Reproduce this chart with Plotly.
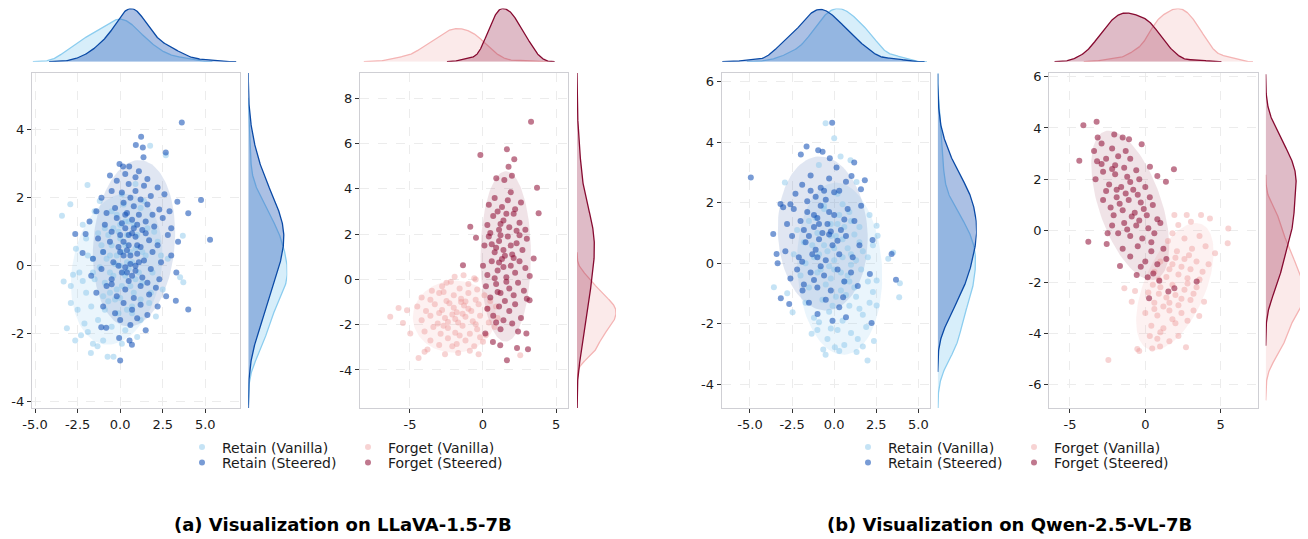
import numpy as np
import plotly.graph_objects as go

# ---------------- data ----------------
SERIES_NAMES = ["Retain (Vanilla)", "Retain (Steered)", "Forget (Vanilla)", "Forget (Steered)"]
TITLES = ["(a) Visualization on LLaVA-1.5-7B", "(b) Visualization on Qwen-2.5-VL-7B"]

RETAIN_VANILLA_A = [
    (-3.32, -0.47), (-3.42, 1.47), (-2.93, 1.81), (-1.92, 2.37), (1.76, 3.53), (3.68, 0.88), (-3.13, -1.84),
    (-2.64, -2.2), (-1.72, -2.57), (-0.74, -2.68), (-0.39, -2.68), (-1.33, -2.37), (-2.77, -0.27), (3.52, -0.34),
    (3.71, -0.49), (2.68, 3.25),
    (-2.2, 1.2), (-1.5, 1.6), (-0.9, 1.1), (-0.2, 1.5), (0.5, 1.3), (1.2, 1.7), (-1.2, 1.9), (2.0, 1.0), (0.1, 2.1),
    (-2.6, 0.5), (-2.0, 0.8), (-1.6, 0.2), (-1.1, 0.6), (-0.6, 0.3), (0.0, 0.8), (0.4, 0.1), (0.9, 0.5), (1.5, 0.3),
    (2.2, 0.7), (-1.3, 0.95), (-0.3, 0.05), (2.8, 0.2),
    (-2.9, -0.6), (-2.4, -0.2), (-2.0, -0.8), (-1.5, -0.4), (-1.0, -0.9), (-0.6, -0.2), (-0.2, -0.7), (0.3, -0.3),
    (0.8, -0.8), (1.3, -0.5), (1.9, -0.2), (2.5, -0.7), (-2.2, -0.45), (-1.2, -0.05), (0.0, -0.95),
    (-2.5, -1.3), (-2.1, -1.7), (-1.7, -1.2), (-1.3, -1.6), (-0.9, -1.3), (-0.5, -1.8), (-0.1, -1.4), (0.3, -1.9),
    (0.7, -1.2), (1.2, -1.6), (1.7, -1.1), (2.1, -1.5), (-1.9, -1.95), (-0.7, -1.05), (-2.9, -1.1),
    (-2.3, -2.05), (-1.0, -2.2), (0.1, -2.3), (1.0, -2.1), (-1.6, -2.3),
    (0.3, 0.6), (0.8, 1.2), (1.3, 0.4), (-0.4, -0.3), (0.6, -0.6), (1.1, -0.2), (0.2, 1.8), (0.9, 2.4), (-0.7, 0.9),
    (1.6, 1.1), (0.4, -1.3), (-0.2, 0.3), (1.8, -0.8), (0.7, 0.1), (-0.9, -0.5), (1.4, 1.9), (0.0, 1.2), (0.5, -0.1),
    (-0.5, 1.6), (1.0, 0.9), (2.4, 0.3), (-1.6, -0.2), (-1.9, 0.3), (0.1, -0.6), (1.2, -1.0),
    (-0.5, 0.6), (0.2, -0.2), (-0.1, 1.0), (0.6, 0.4), (-0.8, 0.2), (0.4, 0.9), (-0.3, -1.0), (0.0, 0.0),
    (0.9, -0.4), (-0.6, -0.8), (0.3, 1.3), (-1.0, 0.4), (0.7, -1.4), (0.1, 0.4), (-0.4, 1.1),
]
RETAIN_STEERED_A = [
    (3.62, 4.21), (1.23, 3.79), (0.92, 3.55), (1.33, 3.48), (1.37, 3.19), (2.68, 3.33),
    (-0.04, 2.99), (0.17, 2.92), (0.53, 2.92), (1.1, 2.78), (0.3, 2.7), (0.9, 2.6), (-0.6, 2.65), (1.6, 2.55), (-0.2, 2.5),
    (0.5, 2.4), (1.4, 2.35), (2.2, 2.3), (-0.5, 2.2), (0.1, 2.15), (0.9, 2.2), (1.8, 2.05), (2.6, 2.1), (-1.1, 2.0), (0.6, 2.0),
    (4.75, 1.93), (3.36, 1.88), (1.2, 1.95), (0.2, 1.85), (-0.3, 1.7), (0.8, 1.75), (1.6, 1.8), (2.3, 1.65), (-1.4, 1.6),
    (-0.8, 1.55), (0.4, 1.55), (1.1, 1.5), (1.9, 1.5), (2.9, 1.6), (4.0, 1.54),
    (-1.8, 1.3), (-0.9, 1.2), (-0.2, 1.4), (0.3, 1.1), (0.7, 1.35), (1.0, 1.2), (1.5, 1.3), (2.0, 1.15), (2.5, 1.4),
    (3.0, 1.1), (-0.5, 1.0), (1.3, 1.05), (0.1, 1.25),
    (5.28, 0.76), (-2.64, 0.93), (-2.03, 0.93), (-1.3, 0.8), (-0.6, 0.7), (0.0, 0.9), (0.5, 0.6), (0.9, 0.85), (1.2, 0.55),
    (1.7, 0.75), (2.2, 0.6), (2.8, 0.9), (3.4, 0.7), (-0.1, 0.55), (0.7, 0.95), (1.5, 0.95),
    (-2.21, 0.37), (-1.6, 0.2), (-1.0, 0.4), (-0.4, 0.1), (0.2, 0.3), (0.6, 0.05), (1.0, 0.35), (1.4, 0.15), (1.9, 0.4),
    (2.4, 0.1), (3.0, 0.3), (0.4, 0.45), (-0.1, 0.0), (0.9, 0.0),
    (-1.7, -0.3), (-1.1, -0.1), (-0.5, -0.4), (0.1, -0.2), (0.5, -0.45), (0.9, -0.15), (1.3, -0.35), (1.8, -0.1),
    (2.3, -0.4), (3.3, -0.2), (0.3, -0.05), (1.6, -0.5),
    (-1.4, -0.8), (-0.8, -0.6), (-0.2, -0.9), (0.3, -0.7), (0.8, -0.95), (1.2, -0.6), (1.7, -0.85), (2.1, -0.65),
    (2.7, -0.9), (-0.5, -0.55),
    (3.27, -1.03), (4.0, -1.29), (-1.0, -1.2), (-0.3, -1.4), (0.2, -1.1), (0.7, -1.3), (1.2, -1.15), (1.6, -1.45), (2.2, -1.2),
    (-1.11, -1.81), (-0.82, -1.83), (0.0, -1.6), (0.6, -1.75), (1.0, -1.55), (1.5, -1.9),
    (0.0, -2.79), (0.69, -2.33), (-0.06, -2.13), (0.55, -2.2),
    (0.2, 0.7), (0.6, 0.3), (1.0, 0.6), (0.4, -0.2), (0.8, 1.1), (0.0, 0.4), (1.1, 0.1), (0.5, 0.9), (0.3, 1.5), (0.7, -0.3),
]
FORGET_VANILLA_A = [
    (-6.35, -1.65), (-5.78, -1.26), (-5.2, -1.36), (-5.48, -1.92), (-4.41, -3.47), (-4.98, -2.39), (-4.0, -3.2),
    (2.55, -3.35), (-1.94, 0.12), (-1.33, 0.19), (-0.5, 0.0),
    (-3.5, -0.5), (-2.8, -0.3), (-2.2, -0.1), (-1.6, -0.4), (-1.0, -0.2), (-0.4, -0.45), (-0.6, 0.05), (-2.5, -0.15),
    (-4.2, -0.8), (-3.6, -0.9), (-3.0, -0.6), (-2.5, -0.95), (-2.0, -0.7), (-1.5, -0.85), (-1.0, -0.6), (-0.5, -0.9),
    (0.1, -0.7), (-2.7, -0.55), (-1.2, -0.98), (0.5, -0.95),
    (-4.5, -1.2), (-3.9, -1.4), (-3.3, -1.1), (-2.8, -1.35), (-2.3, -1.05), (-1.8, -1.45), (-1.3, -1.15), (-0.8, -1.4),
    (-0.3, -1.1), (0.3, -1.3), (0.9, -1.2), (-2.0, -1.25), (-1.0, -1.3), (-3.0, -1.48), (-1.5, -1.0),
    (-4.2, -1.8), (-3.6, -1.6), (-3.1, -1.95), (-2.6, -1.7), (-2.1, -1.55), (-1.7, -1.9), (-1.2, -1.65), (-0.7, -1.85),
    (-0.2, -1.6), (0.4, -1.9), (1.0, -1.7), (-2.4, -1.88), (-1.4, -1.52), (-0.5, -1.98), (-1.9, -1.75),
    (-4.0, -2.3), (-3.4, -2.1), (-2.9, -2.4), (-2.4, -2.15), (-1.9, -2.35), (-1.4, -2.05), (-0.9, -2.4), (-0.4, -2.2),
    (0.2, -2.45), (0.8, -2.1), (-1.6, -2.48), (-2.7, -2.05),
    (-3.6, -2.7), (-3.0, -2.9), (-2.4, -2.6), (-1.8, -2.85), (-1.2, -2.7), (-0.6, -2.95), (0.0, -2.75), (-2.1, -2.95),
    (-0.2, -2.55),
    (-3.8, -3.1), (-2.6, -3.3), (-1.7, -3.25), (-0.9, -3.15), (-0.3, -3.3),
]
FORGET_STEERED_A = [
    (3.29, 6.97), (-0.18, 5.5), (1.64, 5.75), (2.14, 5.31), (1.75, 4.98), (1.98, 4.58), (3.7, 4.05), (0.91, 4.47),
    (1.46, 4.39), (3.81, 2.92),
    (-0.87, 2.33), (-0.48, 1.84), (-1.37, 0.63), (0.16, -2.39), (0.68, -2.76), (1.18, -2.91), (1.64, -3.57),
    (2.33, -3.03), (3.08, -3.08), (2.97, -2.39), (3.47, 0.93), (3.19, -0.92),
    (0.8, 3.6), (1.3, 3.2), (1.7, 3.5), (2.2, 3.1), (1.0, 3.0), (2.6, 3.4), (0.4, 3.3), (1.9, 3.85),
    (0.3, 2.4), (0.7, 2.8), (1.1, 2.2), (1.4, 2.6), (1.8, 2.3), (2.1, 2.9), (2.5, 2.5), (2.9, 2.2), (0.5, 2.05),
    (1.6, 2.9), (1.2, 2.45), (2.3, 2.15),
    (0.1, 1.5), (0.4, 1.9), (0.8, 1.2), (1.1, 1.7), (1.4, 1.3), (1.7, 1.9), (2.0, 1.1), (2.3, 1.6), (2.7, 1.3),
    (3.0, 1.8), (0.6, 1.55), (1.5, 1.05), (1.9, 1.5), (2.5, 1.95), (1.2, 1.95), (0.9, 1.4),
    (0.0, 0.6), (0.3, 0.2), (0.6, 0.8), (1.0, 0.4), (1.3, 0.9), (1.6, 0.1), (1.9, 0.6), (2.2, 0.3), (2.5, 0.8),
    (2.9, 0.5), (0.8, 0.05), (1.4, 0.55), (2.1, 0.95), (3.2, 0.15), (1.1, 0.75),
    (0.2, -0.3), (0.5, -0.8), (0.9, -0.2), (1.2, -0.6), (1.5, -0.95), (1.8, -0.4), (2.1, -0.7), (2.4, -0.15),
    (2.8, -0.5), (3.0, -0.85), (1.0, -0.55), (1.6, -0.1),
    (0.3, -1.3), (0.7, -1.6), (1.1, -1.2), (1.4, -1.8), (1.8, -1.4), (2.2, -1.1), (2.6, -1.7), (2.0, -1.95), (0.9, -1.9),
    (1.2, -2.2), (2.4, -2.3),
]
RETAIN_VANILLA_B = [
    (-0.51, 4.63), (0.0, 4.13), (0.38, 3.53), (0.97, 3.41), (1.33, 2.69), (-2.93, 2.67), (-0.91, 3.25),
    (-3.58, -0.79), (-2.79, -0.99), (-2.47, -1.62), (-1.34, -2.33), (-0.65, -2.85), (-0.51, -3.02), (0.04, -2.77),
    (1.33, -2.93), (1.98, -3.21), (2.36, -2.57), (2.52, -1.39), (2.52, -0.57), (3.9, -0.66), (3.86, -1.12),
    (3.21, 0.15), (3.5, 0.36), (2.52, 1.24), (2.58, 0.91),
    (-1.5, 1.4), (-0.6, 1.8), (0.2, 1.3), (0.9, 1.7), (1.5, 1.2), (2.1, 1.6), (-2.2, 1.1), (0.5, 1.95),
    (-2.4, 0.3), (-1.8, 0.7), (-1.2, 0.2), (-0.6, 0.6), (0.0, 0.1), (0.5, 0.8), (1.0, 0.3), (1.5, 0.7), (2.0, 0.2),
    (-0.2, 0.9), (1.2, 0.95), (2.3, 0.6),
    (-2.0, -0.4), (-1.5, -0.8), (-1.0, -0.3), (-0.5, -0.7), (0.0, -0.2), (0.4, -0.9), (0.8, -0.4), (1.2, -0.8),
    (1.6, -0.2), (2.0, -0.6), (2.3, -0.95), (-0.2, -0.5), (1.0, -0.05), (0.6, -0.6),
    (-1.7, -1.3), (-1.2, -1.8), (-0.7, -1.2), (-0.3, -1.6), (0.1, -1.1), (0.5, -1.9), (0.9, -1.4), (1.3, -1.1),
    (1.7, -1.7), (2.1, -1.3), (-0.9, -1.95), (0.7, -1.05), (1.5, -1.5), (-0.1, -1.4),
    (-1.0, -2.2), (-0.4, -2.5), (0.2, -2.2), (0.6, -2.7), (1.0, -2.3), (1.4, -2.5), (1.9, -2.1), (0.3, -2.9),
    (-0.2, -2.15), (1.7, -2.75),
    (-1.0, 1.0), (-0.4, 0.4), (0.3, 1.6), (0.8, 0.5), (-0.8, -0.2), (0.1, 0.9), (-1.3, 0.6), (0.6, 1.2), (-0.2, 1.3),
    (1.3, 0.1), (0.4, -0.3), (-0.6, 1.9), (1.0, 1.4), (-1.7, 0.0), (0.0, 0.5), (0.9, -0.6), (-0.9, 0.3), (0.5, 0.2),
    (1.7, 0.4), (-0.3, -0.1), (0.2, 2.3), (-1.1, 1.5),
]
RETAIN_STEERED_B = [
    (-4.95, 2.84), (-0.12, 4.65), (-1.64, 3.86), (-1.98, 3.6), (-0.95, 3.74), (-0.69, 3.69), (-0.26, 3.47),
    (0.14, 3.17), (1.19, 3.33), (1.03, 2.89), (1.82, 2.75), (1.59, 2.45), (-3.19, 1.96), (-3.03, 1.85),
    (-3.62, 0.97), (-3.42, 0.31), (-3.36, 0.0), (-3.17, -1.15), (-2.67, -1.34), (-1.88, -0.9), (3.67, -0.54),
    (3.41, 0.31), (2.28, 0.77), (2.12, -0.35), (-0.99, -1.67), (0.7, -1.78), (0.53, -1.12), (2.22, -1.97),
    (-1.9, 2.6), (-1.4, 2.9), (-0.8, 2.5), (-0.3, 2.8), (0.3, 2.4), (0.7, 2.7), (-1.1, 2.2), (-0.5, 2.1), (0.0, 2.35),
    (-2.3, 2.3), (-1.6, 2.05),
    (-2.8, 1.3), (-2.4, 1.8), (-2.0, 1.4), (-1.6, 1.7), (-1.2, 1.2), (-0.8, 1.9), (-0.4, 1.3), (0.0, 1.6), (0.4, 1.1),
    (0.8, 1.8), (1.2, 1.4), (1.6, 1.9), (-1.0, 1.5), (-0.2, 1.05), (-1.8, 1.1), (0.6, 1.45), (-2.6, 1.95),
    (-2.9, 0.4), (-2.5, 0.9), (-2.1, 0.2), (-1.7, 0.7), (-1.3, 0.3), (-0.9, 0.8), (-0.5, 0.1), (-0.1, 0.6), (0.3, 0.3),
    (0.7, 0.9), (1.1, 0.2), (1.5, 0.6), (-1.1, 0.45), (-0.3, 0.95), (-1.9, 0.05), (0.2, 0.75),
    (-2.6, -0.5), (-2.2, -0.2), (-1.8, -0.7), (-1.4, -0.3), (-1.0, -0.8), (-0.6, -0.4), (-0.2, -0.9), (0.2, -0.2),
    (0.6, -0.6), (1.0, -0.3), (1.4, -0.75), (-0.8, -0.1), (-1.2, -0.55),
    (-1.5, -1.3), (-0.5, -1.2), (0.3, -1.45), (-0.1, -1.9),
    (-1.2, 1.6), (-0.7, 1.0), (-1.5, 0.9), (-0.6, 2.4), (-1.0, 0.2), (-0.3, 1.7), (-1.4, 2.4), (-0.9, 1.3),
]
FORGET_VANILLA_B = [
    (1.93, 0.61), (2.75, 0.61), (3.7, 0.61), (4.29, 0.48), (5.51, 0.09), (5.47, -0.49), (4.63, -0.88),
    (-2.45, -5.03), (-1.39, -2.24), (-0.68, -2.35), (-0.53, -4.6), (-0.4, -4.68), (0.46, -4.58), (0.98, -4.51),
    (2.7, -4.54), (-0.9, -2.76), (3.9, -2.76), (3.58, -3.32), (2.19, 0.22), (3.03, 0.35),
    (1.5, -0.4), (2.1, -0.8), (2.6, -0.3), (3.1, -0.7), (3.6, -0.2), (4.0, -0.6), (2.9, -0.95), (1.8, -0.1),
    (0.6, -1.6), (1.0, -1.2), (1.4, -1.8), (1.8, -1.3), (2.2, -1.7), (2.6, -1.1), (3.0, -1.5), (3.4, -1.2),
    (3.8, -1.6), (4.2, -1.3), (0.9, -1.9), (2.0, -1.05), (2.8, -1.85), (3.6, -1.9), (1.6, -1.5), (2.4, -1.4),
    (0.2, -2.4), (0.6, -2.8), (1.0, -2.2), (1.4, -2.6), (1.8, -2.1), (2.2, -2.9), (2.6, -2.3), (3.0, -2.7),
    (3.4, -2.2), (0.5, -2.1), (1.2, -2.95), (2.0, -2.5), (2.8, -2.05), (3.2, -2.45), (1.6, -2.8), (2.4, -2.65),
    (0.9, -2.45),
    (0.0, -3.2), (0.4, -3.7), (0.8, -3.3), (1.2, -3.8), (1.6, -3.1), (2.0, -3.6), (2.4, -3.2), (2.8, -3.5),
    (1.0, -3.95), (1.8, -3.45), (3.2, -3.1), (0.6, -3.05),
    (0.8, -4.2), (1.6, -4.3), (2.2, -4.1), (0.3, -4.1),
]
FORGET_STEERED_B = [
    (-4.11, 4.11), (-3.23, 4.24), (-4.38, 2.72), (-2.06, 3.75), (-1.5, 3.63), (-1.08, 3.56), (-0.24, 3.37),
    (-3.16, 3.63), (1.9, 2.39), (1.37, 1.91), (0.8, 2.13), (0.31, 2.49),
    (-3.78, -0.43), (-2.56, -0.52), (-1.68, -1.37), (-0.57, -1.72), (0.16, -1.81), (0.53, -1.66), (0.93, -1.95),
    (0.25, -2.63), (1.53, -2.37), (1.93, -2.24), (3.41, -1.98),
    (-3.4, 3.1), (-2.9, 3.4), (-2.6, 2.8), (-2.2, 3.2), (-1.8, 2.9), (-1.3, 3.1), (-2.9, 2.6), (-2.0, 2.55),
    (-1.0, 2.8), (-3.2, 2.7),
    (-3.3, 2.0), (-2.8, 2.3), (-2.4, 1.8), (-2.0, 2.2), (-1.6, 1.7), (-1.2, 2.1), (-0.8, 1.6), (-0.4, 2.0),
    (0.0, 1.7), (-1.4, 2.45), (-2.6, 1.55), (-1.0, 1.9), (-0.6, 2.35), (-1.9, 1.6), (-2.2, 2.4),
    (-2.8, 1.2), (-2.3, 0.9), (-1.9, 1.3), (-1.5, 0.8), (-1.1, 1.2), (-0.7, 0.7), (-0.3, 1.1), (0.1, 0.6),
    (0.5, 1.0), (-1.3, 1.45), (-0.9, 0.55), (-1.7, 1.05), (-0.5, 1.4), (0.3, 1.3), (-2.1, 0.6), (-0.1, 0.85),
    (-2.2, 0.2), (-1.8, -0.1), (-1.4, 0.3), (-1.0, -0.2), (-0.6, 0.2), (-0.2, -0.3), (0.2, 0.1), (0.6, -0.1),
    (1.0, 0.3), (-1.2, 0.05), (-0.4, 0.4), (0.4, -0.45), (-2.5, -0.1), (0.8, 0.45),
    (-1.5, -0.7), (-1.0, -1.0), (-0.5, -0.6), (0.0, -1.2), (0.4, -0.8), (0.8, -1.3), (1.2, -0.7), (-0.3, -1.4),
    (1.4, -1.1),
]

X_TICKS_RETAIN = [-5.0, -2.5, 0.0, 2.5, 5.0]
X_LABELS_RETAIN = ["-5.0", "-2.5", "0.0", "2.5", "5.0"]
X_TICKS_FORGET = [-5, 0, 5]
X_LABELS_FORGET = ["-5", "0", "5"]
Y_TICKS_A_RETAIN = [-4, -2, 0, 2, 4]
Y_TICKS_A_FORGET = [-4, -2, 0, 2, 4, 6, 8]
Y_TICKS_B_RETAIN = [-4, -2, 0, 2, 4, 6]
Y_TICKS_B_FORGET = [-6, -4, -2, 0, 2, 4, 6]

# ---------------- styling ----------------
# The page body has an 8px margin, so the figure is 8px smaller and page
# coordinates (measured on the reference) are shifted by 8px.
OFF = 8
FW, FH = 1308 - OFF, 539 - OFF
FONT = "DejaVu Sans"
TXT = "#1a1a1a"

STYLE = {
    "Retain (Vanilla)": dict(marker="rgba(140,200,236,0.5)", line="#8ccdef", fill="rgba(150,210,242,0.38)",
                             ell="rgba(150,205,240,0.2)"),
    "Retain (Steered)": dict(marker="rgba(22,82,182,0.58)", line="#0a4aa6", fill="rgba(55,105,190,0.42)",
                             ell="rgba(60,100,175,0.16)"),
    "Forget (Vanilla)": dict(marker="rgba(236,150,150,0.42)", line="#f4b4b4", fill="rgba(240,170,170,0.25)",
                             ell="rgba(240,170,170,0.16)"),
    "Forget (Steered)": dict(marker="rgba(140,10,50,0.55)", line="#860a30", fill="rgba(150,30,70,0.3)",
                             ell="rgba(140,40,70,0.13)"),
}
NSTD = 1.7
MARKER_SIZE = 6


def kde(vals, grid, factor=0.36):
    v = np.asarray(vals, float)
    bw = factor * v.std(ddof=1)
    d = (grid[:, None] - v[None, :]) / bw
    return np.exp(-0.5 * d ** 2).sum(axis=1) / (len(v) * bw * np.sqrt(2 * np.pi))


def kde_curve(vals, factor=0.36):
    v = np.asarray(vals, float)
    bw = factor * v.std(ddof=1)
    grid = np.linspace(v.min() - 3 * bw, v.max() + 3 * bw, 300)
    return grid, kde(v, grid, factor)


def ellipse(pts, nstd=NSTD):
    a = np.asarray(pts, float)
    mx, my = a.mean(axis=0)
    cov = np.cov(a[:, 0], a[:, 1])
    vals, vecs = np.linalg.eigh(cov)
    t = np.linspace(0, 2 * np.pi, 120)
    circ = np.vstack([np.cos(t), np.sin(t)]) * (nstd * np.sqrt(vals))[:, None]
    e = vecs @ circ
    return e[0] + mx, e[1] + my


def fx(p):
    return (p - OFF) / FW


def fy(p):
    return 1 - (p - OFF) / FH


PANELS = [
    dict(main_x=(32, 240), xr=(-5.18, 7.04), yr=(-4.19, 5.67), right_x0=248.3,
         xt=X_TICKS_RETAIN, xl=X_LABELS_RETAIN, yt=Y_TICKS_A_RETAIN,
         series=[("Retain (Vanilla)", RETAIN_VANILLA_A), ("Retain (Steered)", RETAIN_STEERED_A)]),
    dict(main_x=(360, 568), xr=(-8.42, 5.82), yr=(-5.68, 9.12), right_x0=577,
         xt=X_TICKS_FORGET, xl=X_LABELS_FORGET, yt=Y_TICKS_A_FORGET,
         series=[("Forget (Vanilla)", FORGET_VANILLA_A), ("Forget (Steered)", FORGET_STEERED_A)]),
    dict(main_x=(721.7, 930), xr=(-6.68, 5.69), yr=(-4.78, 6.29), right_x0=937.7,
         xt=X_TICKS_RETAIN, xl=X_LABELS_RETAIN, yt=Y_TICKS_B_RETAIN,
         series=[("Retain (Vanilla)", RETAIN_VANILLA_B), ("Retain (Steered)", RETAIN_STEERED_B)]),
    dict(main_x=(1049.3, 1258.3), xr=(-6.37, 7.5), yr=(-6.9, 6.14), right_x0=1265.7,
         xt=X_TICKS_FORGET, xl=X_LABELS_FORGET, yt=Y_TICKS_B_FORGET,
         series=[("Forget (Vanilla)", FORGET_VANILLA_B), ("Forget (Steered)", FORGET_STEERED_B)]),
]

LEGEND_OF = {
    (0, 0): "legend", (1, 0): "legend", (0, 1): "legend2", (1, 1): "legend2",
    (2, 0): "legend3", (3, 0): "legend3", (2, 1): "legend4", (3, 1): "legend4",
}

MAIN_Y = (fy(408), fy(73))
TOP_Y = (fy(61.7), fy(8.5))
RIGHT_W = 39.0

fig = go.Figure()
layout = {}


def ax(k):
    return "" if k == 1 else str(k)


for p, P in enumerate(PANELS):
    n = 3 * p + 1
    xm, ym = "x" + ax(n), "y" + ax(n)
    xt_, yt_ = "x" + ax(n + 1), "y" + ax(n + 1)
    xr_, yr_ = "x" + ax(n + 2), "y" + ax(n + 2)

    for name, pts in P["series"]:
        ex, ey = ellipse(pts)
        fig.add_trace(go.Scatter(x=ex, y=ey, mode="lines", fill="toself", line=dict(width=0),
                                 fillcolor=STYLE[name]["ell"], hoverinfo="skip", showlegend=False,
                                 xaxis=xm, yaxis=ym))
    for s, (name, pts) in enumerate(P["series"]):
        a = np.asarray(pts, float)
        fig.add_trace(go.Scatter(x=a[:, 0], y=a[:, 1], mode="markers", name=name,
                                 marker=dict(size=MARKER_SIZE, color=STYLE[name]["marker"], line=dict(width=0)),
                                 xaxis=xm, yaxis=ym, legend=LEGEND_OF[(p, s)], showlegend=True))
    tops, rights = [], []
    for name, pts in P["series"]:
        a = np.asarray(pts, float)
        gx, dx = kde_curve(a[:, 0])
        gy, dy = kde_curve(a[:, 1])
        tops.append(dx.max())
        rights.append(dy.max())
        fig.add_trace(go.Scatter(x=gx, y=dx, mode="lines", fill="tozeroy", fillcolor=STYLE[name]["fill"],
                                 line=dict(color=STYLE[name]["line"], width=1.3), hoverinfo="skip",
                                 showlegend=False, xaxis=xt_, yaxis=yt_))
        fig.add_trace(go.Scatter(x=dy, y=gy, mode="lines", fill="tozerox", fillcolor=STYLE[name]["fill"],
                                 line=dict(color=STYLE[name]["line"], width=1.3), hoverinfo="skip",
                                 showlegend=False, xaxis=xr_, yaxis=yr_))

    mdom = [fx(P["main_x"][0]), fx(P["main_x"][1])]
    common = dict(showgrid=True, gridcolor="#ececec", griddash="dash", gridwidth=0.8, zeroline=False,
                  showline=True, linecolor="#cfcfd4", linewidth=1.3, mirror=True, ticks="outside",
                  ticklen=4, tickwidth=1, tickcolor="#333", automargin=False,
                  tickfont=dict(family=FONT, size=13, color=TXT))
    layout["xaxis" + ax(n)] = dict(domain=mdom, range=list(P["xr"]), tickvals=P["xt"], ticktext=P["xl"],
                                   anchor=ym, **common)
    layout["yaxis" + ax(n)] = dict(domain=list(MAIN_Y), range=list(P["yr"]), tickvals=P["yt"],
                                   ticktext=[str(v) for v in P["yt"]], anchor=xm, **common)
    hidden = dict(visible=False, showgrid=False, zeroline=False, automargin=False)
    layout["xaxis" + ax(n + 1)] = dict(domain=mdom, matches=xm, anchor=yt_, **hidden)
    layout["yaxis" + ax(n + 1)] = dict(domain=list(TOP_Y), range=[0, max(tops)], anchor=xt_, **hidden)
    layout["xaxis" + ax(n + 2)] = dict(domain=[fx(P["right_x0"]), min(1.0, fx(P["right_x0"] + RIGHT_W))],
                                       range=[0, max(rights)], anchor=yr_, **hidden)
    layout["yaxis" + ax(n + 2)] = dict(domain=list(MAIN_Y), matches=ym, anchor=xr_, **hidden)

LEG_POS = {"legend": (182, 431.5), "legend2": (182, 447), "legend3": (848, 431.5), "legend4": (848, 447)}
for key, (lx, ly) in LEG_POS.items():
    layout[key] = dict(x=fx(lx), y=fy(ly), xanchor="left", yanchor="top", orientation="h",
                       bgcolor="rgba(0,0,0,0)", font=dict(family=FONT, size=14, color=TXT),
                       itemwidth=30, entrywidth=121, entrywidthmode="pixels", borderwidth=0)

annotations = [
    dict(text="<b>" + TITLES[0] + "</b>", x=fx(342.5), y=fy(524), xref="paper", yref="paper",
         xanchor="center", yanchor="middle", showarrow=False, font=dict(family=FONT, size=18, color="#000")),
    dict(text="<b>" + TITLES[1] + "</b>", x=fx(1009.5), y=fy(524), xref="paper", yref="paper",
         xanchor="center", yanchor="middle", showarrow=False, font=dict(family=FONT, size=18, color="#000")),
]

fig.update_layout(template="none", width=FW, height=FH, margin=dict(l=0, r=0, t=0, b=0, autoexpand=False),
                  plot_bgcolor="white", paper_bgcolor="white", annotations=annotations, **layout)
fig.write_html("out.html")
